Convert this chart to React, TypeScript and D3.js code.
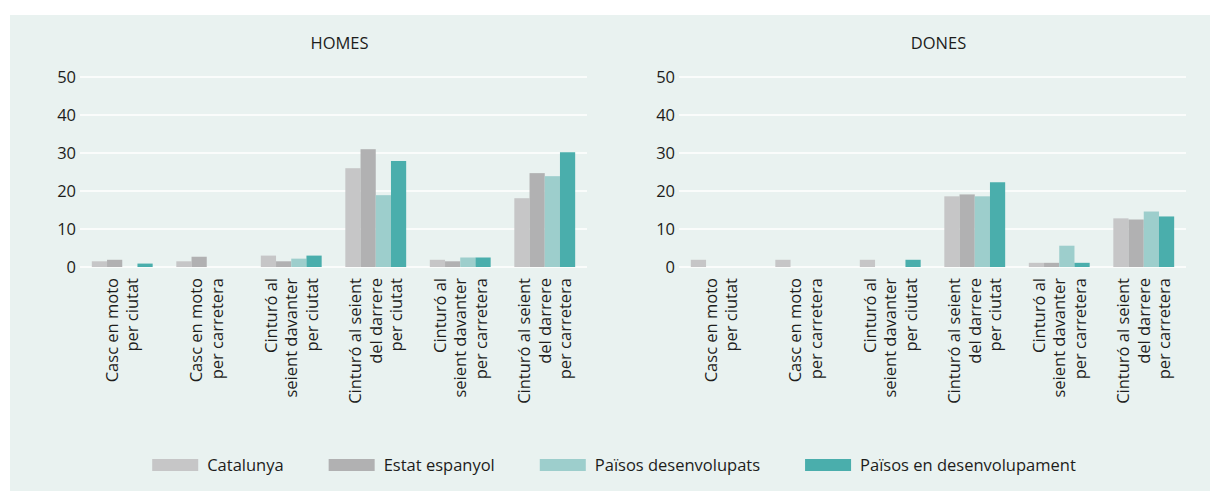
import React, { useRef, useEffect } from 'react'
import * as d3 from 'd3'

const W = 1210
const H = 491

// category labels, one entry per line
const categories = [
  ['Casc en moto', 'per ciutat'],
  ['Casc en moto', 'per carretera'],
  ['Cinturó al', 'seient davanter', 'per ciutat'],
  ['Cinturó al seient', 'del darrere', 'per ciutat'],
  ['Cinturó al', 'seient davanter', 'per carretera'],
  ['Cinturó al seient', 'del darrere', 'per carretera'],
]

const seriesNames = ['Catalunya', 'Estat espanyol', 'Països desenvolupats', 'Països en desenvolupament']
const seriesColors = ['#c6c6c7', '#b1b1b2', '#9dcecc', '#4aaeac']
const yTicks = [0, 10, 20, 30, 40, 50]

// HOMES
const homesCatalunya = [1.5, 1.5, 3.0, 26.0, 1.9, 18.1]
const homesEstat = [1.9, 2.7, 1.5, 31.0, 1.5, 24.7]
const homesDesenv = [0, 0, 2.2, 18.9, 2.5, 23.9]
const homesEnDesenv = [0.9, 0, 3.0, 27.9, 2.5, 30.2]

// DONES
const donesCatalunya = [1.9, 1.9, 1.9, 18.6, 1.1, 12.8]
const donesEstat = [0, 0, 0, 19.1, 1.1, 12.5]
const donesDesenv = [0, 0, 0, 18.6, 5.6, 14.6]
const donesEnDesenv = [0, 0, 1.9, 22.3, 1.1, 13.3]

const FONT = '"Open Sans", "Liberation Sans", sans-serif'
const TXT = '#1d1d1b'

const App = () => {
  const ref = useRef<SVGSVGElement>(null)

  useEffect(() => {
    const svg = d3.select(ref.current)
    svg.selectAll('*').remove()

    // panel background
    svg.append('rect')
      .attr('x', 10).attr('y', 15)
      .attr('width', W - 10).attr('height', H - 15)
      .attr('fill', '#e9f2f0')

    const panels = [
      { title: 'HOMES', values: [homesCatalunya, homesEstat, homesDesenv, homesEnDesenv], x0: 80, x1: 587 },
      { title: 'DONES', values: [donesCatalunya, donesEstat, donesDesenv, donesEnDesenv], x0: 679, x1: 1186 },
    ]

    const y = d3.scaleLinear().domain([0, 50]).range([267, 77])

    panels.forEach(p => {
      const g = svg.append('g')
      const x = d3.scaleBand<number>()
        .domain(categories.map((_, i) => i))
        .range([p.x0, p.x1])
        .paddingInner(0.28)
        .paddingOuter(0.14)
      const xs = d3.scaleBand<number>()
        .domain(seriesNames.map((_, i) => i))
        .range([0, x.bandwidth()])

      // title
      g.append('text')
        .attr('x', (p.x0 + p.x1) / 2 + 6)
        .attr('y', 49)
        .attr('text-anchor', 'middle')
        .style('font-family', FONT).style('font-size', '16.5px')
        .attr('fill', TXT)
        .text(p.title)

      // grid
      g.selectAll('line.grid')
        .data(yTicks)
        .enter().append('line')
        .attr('x1', p.x0).attr('x2', p.x1)
        .attr('y1', d => y(d)).attr('y2', d => y(d))
        .attr('stroke', '#ffffff').attr('stroke-width', 1.5)

      g.selectAll('text.tick')
        .data(yTicks)
        .enter().append('text')
        .attr('x', p.x0 - 4)
        .attr('y', d => y(d))
        .attr('dy', '0.35em')
        .attr('text-anchor', 'end')
        .style('font-family', FONT).style('font-size', '16.5px')
        .attr('fill', TXT)
        .text(d => d)

      // bars
      p.values.forEach((vals, si) => {
        g.selectAll('rect.s' + si)
          .data(vals)
          .enter().append('rect')
          .attr('x', (d, i) => (x(i) as number) + (xs(si) as number))
          .attr('y', d => y(d))
          .attr('width', xs.bandwidth())
          .attr('height', d => y(0) - y(d))
          .attr('fill', seriesColors[si])
      })

      // category labels
      categories.forEach((lines, ci) => {
        const cx = (x(ci) as number) + x.bandwidth() / 2
        lines.forEach((line, li) => {
          const lx = cx + (li - (lines.length - 1) / 2) * 20.5
          g.append('text')
            .attr('transform', `translate(${lx},278) rotate(-90)`)
            .attr('text-anchor', 'end')
            .attr('dy', '0.35em')
            .style('font-family', FONT).style('font-size', '16.5px')
            .attr('fill', TXT)
            .text(line)
        })
      })
    })

    // legend
    const lg = svg.append('g')
    let cursor = 0
    const items = seriesNames.map((name, i) => {
      const item = lg.append('g')
      item.append('rect')
        .attr('x', 0).attr('y', -6)
        .attr('width', 46).attr('height', 12)
        .attr('fill', seriesColors[i])
      const t = item.append('text')
        .attr('x', 55).attr('dy', '0.35em')
        .style('font-family', FONT).style('font-size', '16.5px')
        .attr('fill', TXT)
        .text(name)
      const w = 55 + (t.node() as SVGTextElement).getComputedTextLength()
      item.attr('transform', `translate(${cursor},465)`)
      cursor += w + 45
      return w
    })
    const total = cursor - 45
    lg.attr('transform', `translate(${614 - total / 2},0)`)
    void items
  }, [])

  return (
    <svg
      ref={ref}
      width={W}
      height={H}
      style={{ position: 'absolute', left: 0, top: 0, background: '#ffffff' }}
    />
  )
}

export default App
